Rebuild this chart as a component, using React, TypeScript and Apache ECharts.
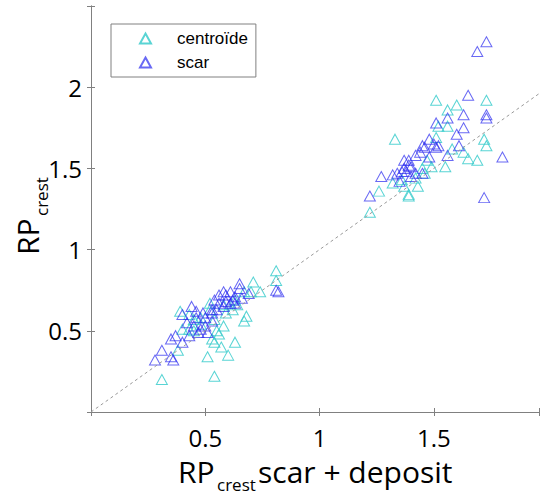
import React, { useEffect, useRef } from 'react';
import * as echarts from 'echarts';

const xTickLabels = [0.5, 1, 1.5];
const yTickLabels = [0.5, 1, 1.5, 2];
const seriesNames = ['centroïde', 'scar'];

const centroide: [number, number][] = [
  [0.81, 0.87], [0.81, 0.81], [0.31, 0.2], [0.54, 0.22], [0.51, 0.34], [0.6, 0.35], [0.63, 0.43],
  [0.57, 0.4], [0.54, 0.43], [0.67, 0.56], [0.68, 0.59], [0.58, 0.53], [0.39, 0.62], [0.38, 0.38],
  [0.74, 0.74], [0.7, 0.74], [0.55, 0.5], [0.53, 0.45], [0.56, 0.48], [0.45, 0.5], [0.43, 0.51],
  [0.59, 0.61], [0.62, 0.63], [0.52, 0.67], [0.48, 0.54], [0.71, 0.8], [0.63, 0.69], [0.58, 0.66],
  [0.45, 0.57], [0.52, 0.63], [0.4, 0.51], [0.48, 0.58], [0.67, 0.74], [0.64, 0.66], [0.54, 0.57],
  [0.43, 0.6],
  [1.51, 1.92], [1.73, 1.92], [1.6, 1.89], [1.56, 1.86], [1.52, 1.76], [1.56, 1.76], [1.33, 1.68],
  [1.51, 1.69], [1.72, 1.68], [1.73, 1.64], [1.63, 1.6], [1.69, 1.55], [1.55, 1.51], [1.46, 1.47],
  [1.26, 1.36], [1.22, 1.23], [1.39, 1.34], [1.39, 1.33], [1.43, 1.39], [1.32, 1.41], [1.37, 1.39],
  [1.42, 1.44], [1.45, 1.5], [1.49, 1.51], [1.36, 1.43], [1.47, 1.55], [1.58, 1.62], [1.65, 1.56],
];

const scar: [number, number][] = [
  [0.81, 0.75], [0.82, 0.74], [0.28, 0.32], [0.31, 0.38], [0.36, 0.32], [0.35, 0.34], [0.37, 0.47],
  [0.35, 0.45], [0.4, 0.43], [0.44, 0.65], [0.4, 0.6], [0.42, 0.55], [0.43, 0.47], [0.46, 0.58],
  [0.49, 0.61], [0.51, 0.49], [0.47, 0.49], [0.58, 0.74], [0.65, 0.79], [0.65, 0.76], [0.61, 0.74],
  [0.69, 0.73], [0.56, 0.67], [0.59, 0.68], [0.61, 0.67], [0.53, 0.63], [0.55, 0.63], [0.53, 0.56],
  [0.5, 0.53], [0.54, 0.69], [0.63, 0.71], [0.59, 0.72], [0.5, 0.58], [0.45, 0.53], [0.48, 0.51],
  [0.63, 0.67], [0.66, 0.7], [0.56, 0.72], [0.53, 0.61], [0.58, 0.65], [0.62, 0.69], [0.46, 0.62],
  [1.73, 2.28], [1.69, 2.22], [1.65, 1.95], [1.63, 1.83], [1.73, 1.83], [1.73, 1.81], [1.56, 1.81],
  [1.51, 1.78], [1.63, 1.75], [1.6, 1.71], [1.61, 1.64], [1.48, 1.68], [1.8, 1.57], [1.72, 1.32],
  [1.48, 1.57], [1.46, 1.63], [1.51, 1.63], [1.44, 1.6], [1.42, 1.58], [1.37, 1.55], [1.39, 1.52],
  [1.36, 1.48], [1.34, 1.47], [1.32, 1.46], [1.27, 1.45], [1.22, 1.33], [1.56, 1.58], [1.4, 1.45],
  [1.35, 1.42], [1.42, 1.47], [1.45, 1.47], [1.37, 1.5], [1.38, 1.48], [1.4, 1.51], [1.5, 1.65],
  [1.52, 1.64], [1.45, 1.64], [1.39, 1.55],
];

const identityLine: [number, number][] = [[0, 0], [1.96, 1.96]];

export default function App() {
  const ref = useRef<HTMLDivElement>(null);
  useEffect(() => {
    const chart = echarts.init(ref.current!, null, { renderer: 'svg' });
    const axisColor = '#808080';
    const font = 'Open Sans';
    const pick = (list: number[]) => (v: number) =>
      list.some((t) => Math.abs(t - v) < 1e-6) ? String(v) : '';
    const baseAxis = {
      axisLine: { show: true, lineStyle: { color: axisColor, width: 1 } },
      axisTick: { show: true, inside: true, length: 4, lineStyle: { color: axisColor } },
      splitLine: { show: false },
    };
    const titleStyle = (text: string, size: number) => ({
      text,
      fontSize: size,
      fontFamily: font,
      fill: '#000',
      align: 'left',
      verticalAlign: 'middle',
      textAlign: 'left',
      textVerticalAlign: 'middle',
    });
    chart.setOption({
      animation: false,
      grid: { left: 91, right: 0, top: 6, bottom: 82 },
      legend: {
        data: seriesNames,
        orient: 'vertical',
        left: 111,
        top: 24,
        padding: [6, 8, 6, 28],
        itemWidth: 11,
        itemHeight: 10,
        itemGap: 7,
        borderColor: axisColor,
        borderWidth: 1,
        backgroundColor: '#fff',
        textStyle: { fontFamily: 'Liberation Sans', fontSize: 17, color: '#000', padding: [0, 0, 0, 21] },
      },
      xAxis: [
        {
          ...baseAxis,
          type: 'value',
          position: 'bottom',
          min: 0,
          max: 1.96,
          interval: 0.5,
          axisLabel: { margin: 13, fontSize: 24, fontFamily: font, color: '#000', formatter: pick(xTickLabels) },
        },
        {
          ...baseAxis,
          type: 'value',
          position: 'top',
          min: 0,
          max: 1.96,
          interval: 0.5,
          axisLabel: { show: false },
        },
      ],
      yAxis: [
        {
          ...baseAxis,
          type: 'value',
          position: 'left',
          min: 0,
          max: 2.5,
          interval: 0.5,
          axisLabel: { margin: 9, fontSize: 24, fontFamily: font, color: '#000', formatter: pick(yTickLabels) },
        },
        {
          ...baseAxis,
          type: 'value',
          position: 'right',
          min: 0,
          max: 2.5,
          interval: 0.5,
          axisLabel: { show: false },
        },
      ],
      series: [
        {
          name: seriesNames[0],
          type: 'scatter',
          data: centroide,
          symbol: 'triangle',
          symbolSize: [11, 10],
          itemStyle: { color: 'rgba(0,0,0,0)', borderColor: '#3ccccc', borderWidth: 1, opacity: 0.85 },
          emphasis: { disabled: true },
          z: 2,
        },
        {
          name: seriesNames[1],
          type: 'scatter',
          data: scar,
          symbol: 'triangle',
          symbolSize: [11, 10],
          itemStyle: { color: 'rgba(0,0,0,0)', borderColor: '#2a2af0', borderWidth: 1, opacity: 0.7 },
          emphasis: { disabled: true },
          z: 3,
        },
        {
          name: 'identity',
          type: 'line',
          data: identityLine,
          symbol: 'none',
          silent: true,
          lineStyle: { color: '#999999', width: 1, type: [3, 3] },
          z: 4,
        },
      ],
      graphic: [
        { type: 'text', x: 178, y: 471.5, style: titleStyle('RP', 30) },
        { type: 'text', x: 217, y: 484, style: titleStyle('crest', 17) },
        { type: 'text', x: 258, y: 471.5, style: titleStyle('scar + deposit', 30) },
        {
          type: 'group',
          x: 27.4,
          y: 255,
          rotation: Math.PI / 2,
          children: [
            { type: 'text', x: 0, y: 0, style: titleStyle('RP', 30) },
            { type: 'text', x: 39, y: 14, style: titleStyle('crest', 17) },
          ],
        },
      ],
    });
    return () => chart.dispose();
  }, []);
  return <div ref={ref} style={{ position: 'absolute', left: 0, top: 0, width: 542, height: 494 }} />;
}
